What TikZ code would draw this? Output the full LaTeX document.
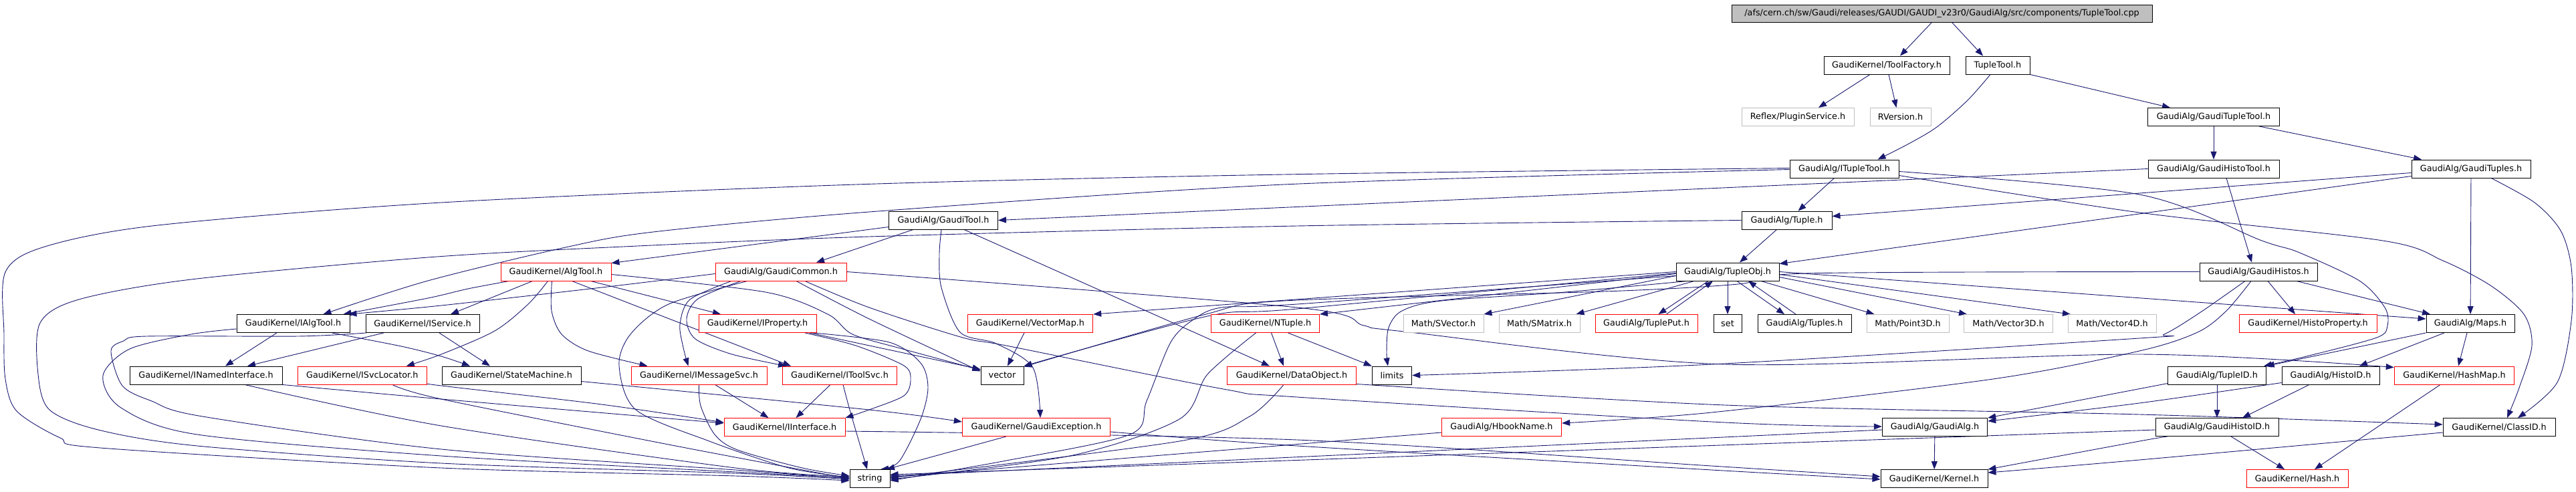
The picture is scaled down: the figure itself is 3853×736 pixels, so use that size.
\documentclass[tikz,border=0pt]{standalone}
\usepackage{fontspec}
\setmainfont{DejaVu Sans}
\usetikzlibrary{arrows.meta}
\pgfdeclarelayer{bg}
\pgfsetlayers{bg,main}
\definecolor{edgec}{HTML}{191970}
\definecolor{redb}{HTML}{FF0000}
\definecolor{grayb}{HTML}{BFBFBF}
\tikzset{
 box/.style={draw=black, fill=white, line width=0.9pt, minimum height=27pt, inner xsep=2pt, inner ysep=0pt, font=\fontsize{12.8}{14}\selectfont},
 redbox/.style={box, draw=redb},
 graybox/.style={box, draw=grayb},
 dep/.style={draw=edgec, line width=0.9pt, -{Triangle[length=12pt,width=9pt]}},
}
\begin{document}
\begin{tikzpicture}[x=1pt,y=-1pt]
\useasboundingbox (0,0) rectangle (3853,736);
% row 0
\node[box,fill=grayb,minimum width=629pt,minimum height=26pt] (root) at (2904.5,20) {/afs/cern.ch/sw/Gaudi/releases/GAUDI/GAUDI\_v23r0/GaudiAlg/src/components/TupleTool.cpp};
% row 1
\node[box,minimum width=188pt] (toolfactory) at (2822,97.5) {GaudiKernel/ToolFactory.h};
\node[box,minimum width=96pt] (tupletool) at (2988,97.5) {TupleTool.h};
% row 2
\node[graybox,minimum width=168pt] (pluginsvc) at (2689,175) {Reflex/PluginService.h};
\node[graybox,minimum width=91pt] (rversion) at (2842.5,175) {RVersion.h};
\node[box,minimum width=197pt] (gtupletool) at (3311,175) {GaudiAlg/GaudiTupleTool.h};
% row 3
\node[box,minimum width=163pt] (ituple) at (2758.5,252.5) {GaudiAlg/ITupleTool.h};
\node[box,minimum width=196pt] (ghistotool) at (3311,252.5) {GaudiAlg/GaudiHistoTool.h};
\node[box,minimum width=178pt] (gtuples) at (3696,252.5) {GaudiAlg/GaudiTuples.h};
% row 4
\node[box,minimum width=163pt] (gtool) at (1411,329.5) {GaudiAlg/GaudiTool.h};
\node[box,minimum width=135pt] (tuple) at (2672.5,329.5) {GaudiAlg/Tuple.h};
% row 5
\node[redbox,minimum width=165pt] (algtool) at (831.5,406.5) {GaudiKernel/AlgTool.h};
\node[redbox,minimum width=196pt] (gcommon) at (1168,406.5) {GaudiAlg/GaudiCommon.h};
\node[box,minimum width=154pt] (tupleobj) at (2584,406.5) {GaudiAlg/TupleObj.h};
\node[box,minimum width=176pt] (ghistos) at (3378,406.5) {GaudiAlg/GaudiHistos.h};
% row 6
\node[box,minimum width=169pt] (ialgtool) at (438.5,484) {GaudiKernel/IAlgTool.h};
\node[box,minimum width=170pt] (iservice) at (632,484) {GaudiKernel/IService.h};
\node[redbox,minimum width=176pt] (iproperty) at (1133,484) {GaudiKernel/IProperty.h};
\node[redbox,minimum width=187.5pt] (vectormap) at (1541,484) {GaudiKernel/VectorMap.h};
\node[redbox,minimum width=162pt] (ntuple) at (1892.5,484) {GaudiKernel/NTuple.h};
\node[graybox,minimum width=120pt] (svector) at (2159,484) {Math/SVector.h};
\node[graybox,minimum width=121pt] (smatrix) at (2302.5,484) {Math/SMatrix.h};
\node[redbox,minimum width=153pt] (tupleput) at (2462.5,484) {GaudiAlg/TuplePut.h};
\node[box,minimum width=42pt] (set) at (2584,484) {set};
\node[box,minimum width=140pt] (tuples) at (2699,484) {GaudiAlg/Tuples.h};
\node[graybox,minimum width=123pt] (point3d) at (2853.5,484) {Math/Point3D.h};
\node[graybox,minimum width=132.5pt] (vector3d) at (3004,484) {Math/Vector3D.h};
\node[graybox,minimum width=132pt] (vector4d) at (3159,484) {Math/Vector4D.h};
\node[redbox,minimum width=206pt] (histoprop) at (3452,484) {GaudiKernel/HistoProperty.h};
\node[box,minimum width=132pt] (maps) at (3695,484) {GaudiAlg/Maps.h};
% row 7
\node[box,minimum width=228pt] (inamed) at (308,561.5) {GaudiKernel/INamedInterface.h};
\node[redbox,minimum width=193.5pt] (isvcloc) at (541.75,561.5) {GaudiKernel/ISvcLocator.h};
\node[box,minimum width=208pt] (statemachine) at (765,561.5) {GaudiKernel/StateMachine.h};
\node[redbox,minimum width=203pt] (imsgsvc) at (1045.5,561.5) {GaudiKernel/IMessageSvc.h};
\node[redbox,minimum width=170.5pt] (itoolsvc) at (1256,561.5) {GaudiKernel/IToolSvc.h};
\node[box,minimum width=64pt] (vector) at (1499,561.5) {vector};
\node[redbox,minimum width=192.6pt] (dataobject) at (1932,561.5) {GaudiKernel/DataObject.h};
\node[box,minimum width=59.5pt] (limits) at (2082,561.5) {limits};
\node[box,minimum width=146.5pt] (tupleid) at (3316,561.5) {GaudiAlg/TupleID.h};
\node[box,minimum width=146pt] (histoid) at (3486,561.5) {GaudiAlg/HistoID.h};
\node[redbox,minimum width=179.6pt] (hashmap) at (3671,561.5) {GaudiKernel/HashMap.h};
% row 8
\node[redbox,minimum width=181pt] (iinterface) at (1173.5,639) {GaudiKernel/IInterface.h};
\node[redbox,minimum width=221.5pt] (gexception) at (1550,639) {GaudiKernel/GaudiException.h};
\node[redbox,minimum width=179.4pt] (hbookname) at (2246,639) {GaudiAlg/HbookName.h};
\node[box,minimum width=157.5pt] (gaudialg) at (2894,639) {GaudiAlg/GaudiAlg.h};
\node[box,minimum width=184pt] (ghistoid) at (3316,639) {GaudiAlg/GaudiHistoID.h};
\node[box,minimum width=168pt] (classid) at (3738,639) {GaudiKernel/ClassID.h};
% row 9
\node[box,minimum width=60pt] (string) at (1301,716) {string};
\node[box,minimum width=160pt] (kernel) at (2893,716) {GaudiKernel/Kernel.h};
\node[redbox,minimum width=152pt] (hash) at (3436,716) {GaudiKernel/Hash.h};

\begin{pgfonlayer}{bg}
% top
\draw[dep] ([xshift=-15pt]root.south) -- ([xshift=20pt]toolfactory.north);
\draw[dep] ([xshift=15pt]root.south) -- ([xshift=-22pt]tupletool.north);
\draw[dep] ([xshift=-25pt]toolfactory.south) -- ([xshift=31pt]pluginsvc.north);
\draw[dep] ([xshift=3pt]toolfactory.south) -- ([xshift=-6pt]rversion.north);
\draw[dep] plot[smooth] coordinates {([xshift=-11pt]tupletool.south) (2943,150) (2897,190) (2855,215) ([xshift=50pt]ituple.north)};
\draw[dep] (tupletool.south east) -- ([xshift=-65pt]gtupletool.north);
\draw[dep] (gtupletool) -- (ghistotool);
\draw[dep] ([xshift=68pt]gtupletool.south) -- ([xshift=-74pt]gtuples.north);
\draw[dep] (ghistotool.west) -- (gtool.east);
\draw[dep] ([xshift=19pt]ghistotool.south) -- ([xshift=-10pt]ghistos.north);
\draw[dep] ([yshift=-6pt]gtuples.west) -- ([yshift=6pt]tuple.east);
\draw[dep] ([yshift=-11pt]gtuples.west) -- ([yshift=-2pt]tupleobj.north east);
\draw[dep] (gtuples) -- (maps);
\draw[dep] plot[smooth] coordinates {([xshift=30pt]gtuples.south) (3791,303) (3830,345) (3846,400) (3846,480) (3825,572) ([xshift=28pt]classid.north)};
% ITupleTool
\draw[dep] plot[smooth] coordinates {([yshift=-1pt]ituple.west) (1920,276) (1300,317) (977,347) (846,370) (640,420) ([xshift=45pt]ialgtool.north)};
\draw[dep] plot[smooth] coordinates {([yshift=1pt]ituple.west) (1920,261) (1280,276) (660,303) (236,337) (67,369) (8,407) (6,500) (8,567) (25,615) (90,655) (150,670) (660,700) (1100,712) ([yshift=-3pt]string.west)};
\draw[dep] ([xshift=-15pt]ituple.south) -- ([xshift=17pt]tuple.north);
\draw[dep] plot[smooth] coordinates {([yshift=-4pt]ituple.east) (3200,291) (3383,360) (3437,377) (3529,420) (3567,460) (3571,487) (3555,505) (3450,533) ([xshift=70pt]tupleid.north)};
\draw[dep] plot[smooth] coordinates {([yshift=-10pt]ituple.east) (3200,318) (3564,360) (3654,390) (3725,427) (3775,470) (3787,517) (3768,580) ([xshift=12pt]classid.north)};
% GaudiTool
\draw[dep] ([yshift=-10pt]gtool.west) -- ([yshift=-1pt]algtool.north east);
\draw[dep] ([xshift=-45pt]gtool.south) -- ([xshift=53pt]gcommon.north);
\draw[dep] plot[smooth] coordinates {([xshift=-3pt]gtool.south) (1405,380) (1408,430) (1436,497) (1490,514) (1545,550) ([xshift=6pt]gexception.north)};
\draw[dep] ([xshift=31pt]gtool.south) -- ([xshift=-33pt]dataobject.north);
% Tuple
\draw[dep] ([xshift=-15pt]tuple.south) -- ([xshift=18pt]tupleobj.north);
\draw[dep] plot[smooth] coordinates {(tuple.west) (1940,338) (1300,354) (932,369) (640,385) (286,418) (118,448) (60,483) (57,560) (74,613) (147,643) (295,667) (660,693) (1100,708) ([yshift=-1pt]string.west)};
% AlgTool
\draw[dep] plot[smooth] coordinates {([xshift=-70pt]algtool.south) (700,432) (640,446) ([xshift=75pt]ialgtool.north)};
\draw[dep] ([xshift=-35pt]algtool.south) -- ([xshift=42pt]iservice.north);
\draw[dep] plot[smooth] coordinates {([xshift=-12pt]algtool.south) (790,455) (740,495) (660,530) ([xshift=66pt]isvcloc.north)};
\draw[dep] plot[smooth] coordinates {([xshift=-6pt]algtool.south) (825,465) (840,500) (880,525) ([xshift=-77pt]imsgsvc.north)};
\draw[dep] ([xshift=24pt]algtool.south) -- ([xshift=-73pt]itoolsvc.north);
\draw[dep] ([xshift=52pt]algtool.south) -- ([xshift=-55pt]iproperty.north);
\draw[dep] plot[smooth] coordinates {([yshift=-4pt]algtool.east) (1145,437) (1238,470) (1275,500) (1350,522) ([yshift=8pt]vector.west)};
% GaudiCommon
\draw[dep] plot[smooth] coordinates {([xshift=-74pt]gcommon.south) (1032,448) (1017,485) (1022,520) ([xshift=-16pt]imsgsvc.north)};
\draw[dep] plot[smooth] coordinates {([xshift=-60pt]gcommon.south) (1044,447) (1027,477) (1040,507) (1095,530) ([xshift=-80pt]itoolsvc.north)};
\draw[dep] plot[smooth] coordinates {([xshift=-50pt]gcommon.south) (1000,455) (943,500) (926,547) (951,613) (1061,660) (1180,700) ([yshift=2pt]string.west)};
\draw[dep] plot[smooth] coordinates {([xshift=23pt]gcommon.south) (1300,477) ([yshift=6pt]vector.west)};
\draw[dep] plot[smooth] coordinates {(gcommon.east) (1940,460) (2040,487) (2100,496) (2580,545) (3200,530) ([yshift=12pt]hashmap.west)};
\draw[dep] plot[smooth] coordinates {([xshift=36pt]gcommon.south) (1300,460) (1440,505) (1510,518) (1830,582) (1940,594) (2580,632) ([yshift=1pt]gaudialg.west)};
\draw[dep] plot[smooth] coordinates {([yshift=-3pt]gcommon.west) (900,430) (660,457) ([xshift=-2pt]ialgtool.north east)};
% TupleObj
\draw[dep] ([yshift=-3pt]tupleobj.west) -- (ntuple.north east);
\draw[dep] (tupleobj.west) -- (vectormap.north east);
\draw[dep] plot[smooth] coordinates {([yshift=-2pt]tupleobj.west) (1940,462) (1806,473) (vector.north east)};
\draw[dep] plot[smooth] coordinates {([yshift=-6pt]tupleobj.west) (1940,455) (1827,460) (1785,478) (1751,512) (1715,600) (1690,650) (1500,690) ([yshift=-3pt]string.east)};
\draw[dep] ([yshift=-6pt]tupleobj.west) -- (svector.north east);
\draw[dep] ([xshift=-50pt]tupleobj.south) -- ([xshift=-6pt]smatrix.north east);
\draw[dep] ([xshift=-29pt]tupleobj.south) -- ([xshift=18pt]tupleput.north);
\draw[dep] ([xshift=30pt]tupleput.north) -- ([xshift=-22pt]tupleobj.south);
\draw[dep] (tupleobj) -- (set);
\draw[dep] ([xshift=14pt]tupleobj.south) -- ([xshift=-30pt]tuples.north);
\draw[dep] ([xshift=-13pt]tuples.north) -- ([xshift=31pt]tupleobj.south);
\draw[dep] ([xshift=50pt]tupleobj.south) -- ([xshift=-50pt]point3d.north);
\draw[dep] ([yshift=-8pt]tupleobj.east) -- ([xshift=-62pt]vector3d.north);
\draw[dep] ([yshift=-4pt]tupleobj.east) -- ([xshift=-62pt]vector4d.north);
\draw[dep] (tupleobj.east) -- ([yshift=7pt]maps.west);
\draw[dep] plot[smooth] coordinates {([xshift=-60pt]tupleobj.south) (2341,437) (2156,450) (2097,465) (2077,490) (2074,527) ([xshift=-6pt]limits.north)};
% GaudiHistos
\draw[dep] ([xshift=14pt]ghistos.south) -- ([xshift=-19pt]histoprop.north);
\draw[dep] ([xshift=57pt]ghistos.south) -- ([xshift=-60pt]maps.north);
\draw[dep] plot[smooth] coordinates {([xshift=-20pt]ghistos.south) (3290,468) (3237,500) (3200,506) (2560,545) (limits.east)};
\draw[dep] plot[smooth] coordinates {([xshift=-11pt]ghistos.south) (3330,465) (3287,497) (3200,525) (2981,567) (2560,617) ([yshift=6pt]hbookname.east)};
\draw[dep] plot[smooth] coordinates {(ghistos.west) (2700,409) (2600,425) (2400,436) (1920,450) (1800,471) ([yshift=-1pt]vector.north east)};
% Maps
\draw[dep] (maps.south west) -- (tupleid.north east);
\draw[dep] ([xshift=-39pt]maps.south) -- ([xshift=43pt]histoid.north);
\draw[dep] ([xshift=-5pt]maps.south) -- ([xshift=6pt]hashmap.north);
% NTuple
\draw[dep] ([xshift=9pt]ntuple.south) -- ([xshift=-12pt]dataobject.north);
\draw[dep] ([xshift=34pt]ntuple.south) -- (limits.north west);
\draw[dep] plot[smooth] coordinates {([xshift=-14pt]ntuple.south) (1806,560) (1764,627) (1600,682) ([yshift=-1pt]string.east)};
% VectorMap
\draw[dep] ([xshift=-9pt]vectormap.south) -- ([xshift=8pt]vector.north);
% IAlgTool
\draw[dep] ([xshift=-24.5pt]ialgtool.south) -- ([xshift=29pt]inamed.north);
\draw[dep] plot[smooth] coordinates {([xshift=58pt]ialgtool.south) (600,518) (660,533) ([xshift=-62pt]statemachine.north)};
\draw[dep] plot[smooth] coordinates {([yshift=-8pt]ialgtool.west) (286,500) (194,522) (154,562) (181,610) (295,650) (660,682) (1100,706) ([yshift=1pt]string.west)};
% IService
\draw[dep] ([xshift=-58pt]iservice.south) -- ([xshift=62pt]inamed.north);
\draw[dep] ([xshift=25pt]iservice.south) -- ([xshift=-32pt]statemachine.north);
\draw[dep] plot[smooth] coordinates {([xshift=-84pt]iservice.south) (446,503) (219,503) (185,510) (166,525) (183,577) (227,600) (303,623) (660,672) (1100,703) (string.west)};
% INamedInterface
\draw[dep] plot[smooth] coordinates {(inamed.south east) (660,597) ([yshift=6pt]iinterface.west)};
\draw[dep] plot[smooth] coordinates {([xshift=58pt]inamed.south) (660,637) (1100,700) ([yshift=3pt]string.west)};
% ISvcLocator
\draw[dep] plot[smooth] coordinates {([yshift=-12pt]isvcloc.east) (660,577) (900,605) ([yshift=7pt]iinterface.west)};
\draw[dep] plot[smooth] coordinates {([xshift=45pt]isvcloc.south) (660,597) (1000,665) (string.west)};
% StateMachine
\draw[dep] plot[smooth] coordinates {([yshift=-9pt]statemachine.east) (1300,613) ([yshift=8pt]gexception.west)};
% IMessageSvc
\draw[dep] ([xshift=24pt]imsgsvc.south) -- ([xshift=-24pt]iinterface.north);
\draw[dep] plot[smooth] coordinates {(imsgsvc.south) (1048,607) (1069,650) (1103,673) (1200,700) ([yshift=4pt]string.west)};
% IToolSvc
\draw[dep] ([xshift=-14pt]itoolsvc.south) -- ([xshift=17pt]iinterface.north);
\draw[dep] plot[smooth] coordinates {([xshift=5pt]itoolsvc.south) (1271,613) ([xshift=-4pt]string.north)};
% IProperty
\draw[dep] plot[smooth] coordinates {([xshift=71pt]iproperty.south) (1280,517) (1352,547) (1362,568) (1352,592) (1300,613) (iinterface.north east)};
\draw[dep] ([xshift=78pt]iproperty.south) -- ([yshift=9pt]vector.west);
\draw[dep] plot[smooth] coordinates {([xshift=83pt]iproperty.south) (1330,512) (1377,543) (1388,580) (1377,627) (1345,690) ([xshift=16pt]string.north)};
% DataObject
\draw[dep] plot[smooth] coordinates {([yshift=-13pt]dataobject.east) (2580,606) (3200,620) ([yshift=4pt]classid.west)};
\draw[dep] plot[smooth] coordinates {([xshift=-12pt]dataobject.south) (1869,623) (1764,660) ([yshift=1pt]string.east)};
% TupleID / HistoID
\draw[dep] ([yshift=-12pt]tupleid.west) -- (gaudialg.north east);
\draw[dep] (tupleid) -- (ghistoid);
\draw[dep] plot[smooth] coordinates {([yshift=-11pt]histoid.west) (3200,603) ([yshift=-5pt]gaudialg.north east)};
\draw[dep] ([xshift=-32pt]histoid.south) -- ([xshift=38pt]ghistoid.north);
% HashMap
\draw[dep] ([xshift=-21pt]hashmap.south) -- ([xshift=26pt]hash.north);
% IInterface / GaudiException
\draw[dep] plot[smooth] coordinates {([yshift=-6pt]iinterface.east) (1940,658) (2560,697) ([yshift=3pt]kernel.west)};
\draw[dep] plot[smooth] coordinates {([yshift=-7pt]gexception.east) (1940,667) (2560,703) ([yshift=-1pt]kernel.west)};
\draw[dep] ([xshift=-45pt]gexception.south) -- ([xshift=25pt]string.north);
% HbookName / GaudiAlg
\draw[dep] ([yshift=-8pt]hbookname.west) -- ([yshift=2pt]string.east);
\draw[dep] (gaudialg) -- (kernel);
\draw[dep] ([yshift=-4pt]gaudialg.west) -- ([yshift=4pt]string.east);
% GaudiHistoID
\draw[dep] ([xshift=21pt]ghistoid.south) -- ([xshift=-19pt]hash.north);
\draw[dep] plot[smooth] coordinates {([xshift=-74pt]ghistoid.south) (3200,660) (kernel.north east)};
\draw[dep] ([yshift=-4pt]ghistoid.west) -- ([yshift=6pt]string.east);
% ClassID
\draw[dep] plot[smooth] coordinates {([yshift=-8pt]classid.west) (3200,688) ([yshift=-5pt]kernel.north east)};
\end{pgfonlayer}
\end{tikzpicture}
\end{document}
